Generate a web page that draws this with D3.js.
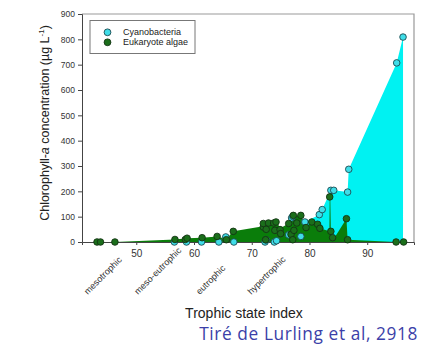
<!DOCTYPE html>
<html>
<head>
<meta charset="utf-8">
<script src="https://cdn.jsdelivr.net/npm/d3@7"></script>
<style>
  html, body { margin: 0; padding: 0; background: #fff; }
  svg { display: block; }
</style>
</head>
<body>
<svg id="chart" width="425" height="346"></svg>
<script>
// Trophic state index (x) vs chlorophyll-a (y, µg/L)
const cyanoTSI  = [56.6, 58.7, 61.3, 64.3, 65.5, 66.9, 72.3, 72.5, 73.9, 74.3, 76.4, 76.9, 77.1, 78.5, 79.2, 81.7, 82.2, 83.7, 84.2, 86.6, 86.8, 95.1, 96.2];
const cyanoChl  = [0, 0, 0, 0, 20, 0, 0, 8, 0, 5, 28, 95, 101, 22, 79, 108, 128, 204, 204, 197, 287, 707, 809];

const euTSI = [43.2, 43.8, 46.3, 56.7, 58.5, 58.8, 61.4, 64.0, 65.6, 66.8,
               72.0, 72.0, 72.4, 72.5, 72.9, 73.8, 74.0, 74.2, 74.9, 75.0,
               76.4, 76.8, 77.1, 77.2, 77.3, 77.8, 78.5, 79.4, 80.4, 81.4,
               81.8, 83.5, 83.7, 84.0, 86.4, 86.6, 95.0, 96.3];
const euChl = [0, 0, 0, 10, 10, 15, 17, 22, 9, 42,
               59, 73, 9, 50, 75, 75, 46, 79, 49, 33,
               73, 30, 9, 105, 46, 75, 105, 57, 79, 70,
               54, 178, 42, 17, 92, 9, 0, 0];

// Upper outline of the eukaryote band
const euEdgeTSI = [43.2, 46.3, 56.7, 58.8, 61.4, 64.0, 65.6, 66.8, 72.0, 72.9, 74.2, 75.0, 76.4, 77.2, 78.5, 79.4, 80.4, 81.4, 81.8, 83.45, 83.5, 83.6, 83.7, 84.0, 86.4, 86.6, 95.0, 96.3];
const euEdgeChl = [0, 0, 10, 15, 17, 22, 12, 42, 62, 75, 79, 55, 73, 105, 105, 60, 79, 70, 54, 42, 178, 178, 42, 5, 92, 9, 0, 0];

const yTicks = [0, 100, 200, 300, 400, 500, 600, 700, 800, 900];
const xTicks = [50, 60, 70, 80, 90];
const stateLabels = ["mesotrophic", "meso-eutrophic", "eutrophic", "hypertrophic"];
const stateTSI = [41.6, 50.3, 61.0, 69.9];

const legendLabels = ["Cyanobacteria", "Eukaryote algae"];

const C_AREA = "#00f2f2", C_PT = "#3fdde8";
const E_AREA = "#0a7d0a", E_PT = "#1b6e1b";

const svg = d3.select("#chart");
const font = "'Liberation Sans', Arial, sans-serif";

const x = d3.scaleLinear().domain([40.6, 98.1]).range([82, 414]);
const y = d3.scaleLinear().domain([0, 900]).range([242, 14]);

const cyano = cyanoTSI.map((t, i) => ({t, c: cyanoChl[i]})).sort((a, b) => a.t - b.t);
const eu = euTSI.map((t, i) => ({t, c: euChl[i]}));
const euEdge = euEdgeTSI.map((t, i) => ({t, c: euEdgeChl[i]}));

const area = d3.area().x(d => x(d.t)).y0(y(0)).y1(d => y(d.c));

// frame (top/right)
svg.append("path")
  .attr("d", `M${x.range()[0]},${y(900)}H${x.range()[1]}V${y(0)}`)
  .attr("fill", "none").attr("stroke", "#999").attr("stroke-width", 1.2);

svg.append("path").datum(cyano).attr("d", area).attr("fill", C_AREA);
svg.append("path").datum(euEdge).attr("d", area).attr("fill", E_AREA);

// axes
const yAxis = svg.append("g").attr("transform", `translate(${x.range()[0]},0)`)
  .call(d3.axisLeft(y).tickValues(yTicks).tickSize(4).tickPadding(3));
const xAxis = svg.append("g").attr("transform", `translate(0,${y(0)})`)
  .call(d3.axisBottom(x).tickValues(xTicks).tickSize(3).tickPadding(5));
[yAxis, xAxis].forEach(g => {
  g.select(".domain").attr("stroke", "#444");
  g.selectAll(".tick line").attr("stroke", "#444");
  g.selectAll("text").attr("font-family", font).attr("fill", "#333");
});
yAxis.selectAll("text").attr("font-size", 8.5);
xAxis.selectAll("text").attr("font-size", 10);

// points
svg.append("g").selectAll("circle").data(cyano).join("circle")
  .attr("cx", d => x(d.t)).attr("cy", d => y(d.c)).attr("r", 3.3)
  .attr("fill", C_PT).attr("stroke", "#1d4b50").attr("stroke-width", 0.9);
svg.append("g").selectAll("circle").data(eu).join("circle")
  .attr("cx", d => x(d.t)).attr("cy", d => y(d.c)).attr("r", 3.3)
  .attr("fill", E_PT).attr("stroke", "#143414").attr("stroke-width", 0.9);

// trophic state labels, slanted upward from a common baseline
svg.append("g").selectAll("text").data(stateLabels).join("text")
  .attr("transform", (d, i) => `translate(${x(stateTSI[i])},${295}) rotate(-45)`)
  .attr("text-anchor", "start").attr("font-family", font).attr("font-size", 9)
  .attr("fill", "#333").text(d => d);

// axis titles
const yTitle = svg.append("text")
  .attr("transform", "translate(49,123) rotate(-90)")
  .attr("text-anchor", "middle").attr("font-family", font).attr("font-size", 12.5).attr("fill", "#222");
yTitle.append("tspan").text("Chlorophyll-");
yTitle.append("tspan").attr("font-style", "italic").text("a");
yTitle.append("tspan").text(" concentration (µg L");
yTitle.append("tspan").attr("font-size", 8).attr("dy", -5).text("-1");
yTitle.append("tspan").attr("dy", 5).text(")");

svg.append("text").attr("x", 244).attr("y", 318).attr("text-anchor", "middle")
  .attr("font-family", font).attr("font-size", 14).attr("fill", "#222").text("Trophic state index");

svg.append("text").attr("x", 418).attr("y", 340).attr("text-anchor", "end")
  .attr("font-family", "'Open Sans', sans-serif").attr("font-size", 17.3)
  .attr("letter-spacing", 0.6).attr("fill", "#3b3fa8")
  .text("Tiré de Lurling et al, 2918");

// legend
const lg = svg.append("g");
lg.append("rect").attr("x", 90).attr("y", 20.5).attr("width", 105).attr("height", 33)
  .attr("fill", "#fff").attr("stroke", "#777").attr("stroke-width", 1);
const legendFill = [C_PT, E_PT], legendStroke = ["#1d4b50", "#143414"];
legendLabels.forEach((lab, i) => {
  lg.append("circle").attr("cx", 107.5).attr("cy", 32.3 + i * 10).attr("r", 3.4)
    .attr("fill", legendFill[i]).attr("stroke", legendStroke[i]).attr("stroke-width", 0.9);
  lg.append("text").attr("x", 123).attr("y", 35.3 + i * 10)
    .attr("font-family", font).attr("font-size", 9).attr("fill", "#222").text(lab);
});
</script>
</body>
</html>
